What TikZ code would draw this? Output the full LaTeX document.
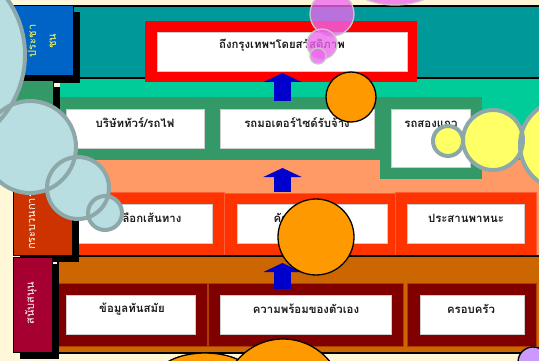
\documentclass[tikz,border=0pt]{standalone}
\usepackage{fontspec}
\newfontfamily\thai[Script=Thai]{Loma}
\usetikzlibrary{arrows.meta}
\definecolor{cream}{HTML}{FFF7D8}
\definecolor{tealband}{HTML}{009999}
\definecolor{bluelab}{HTML}{0063C6}
\definecolor{mint}{HTML}{00CC99}
\definecolor{dgreen}{HTML}{339966}
\definecolor{salmon}{HTML}{FF9966}
\definecolor{redrow}{HTML}{FF3300}
\definecolor{redlab}{HTML}{CC3300}
\definecolor{brownband}{HTML}{CC6600}
\definecolor{darkred}{HTML}{800000}
\definecolor{crimson}{HTML}{A50030}
\definecolor{orangec}{HTML}{FF9900}
\definecolor{arrowblue}{HTML}{0000CC}
\definecolor{bubble}{HTML}{B9DEE2}
\definecolor{bubbleline}{HTML}{8DA8A8}
\definecolor{yel}{HTML}{FFFF66}
\definecolor{pinkc}{HTML}{EE66EE}
\definecolor{purplec}{HTML}{CC99FF}
\definecolor{txtc}{HTML}{1C1C1C}
\tikzset{
  wbox/.style={fill=white, draw=black!20, line width=0.4pt, inner sep=0pt},
  txt/.style={font=\thai\bfseries\fontsize{11.4}{13}\selectfont, text=txtc, inner sep=0pt},
  labtxt/.style={font=\thai\fontsize{11}{20}\selectfont, inner sep=0pt, rotate=90, align=center},
  blockarrow/.style={draw=arrowblue, line width=17pt, -{Triangle[length=9pt,width=38pt]}},
  orangecirc/.style={fill=orangec, draw=black, line width=1.3pt},
  bubblefill/.style={fill=bubble, draw=none},
  bubbleedge/.style={draw=bubbleline, line width=4pt},
  yelfill/.style={fill=yel, draw=none},
  pinkcirc/.style={fill=pinkc, fill opacity=0.78, draw=black!22, line width=1.3pt},
}
\begin{document}
\begin{tikzpicture}[x=1pt,y=-1pt]
\useasboundingbox (0,0) rectangle (539,361);
\fill[cream] (0,0) rectangle (539,361);

% ---------- layer 1 ----------
\draw[fill=tealband, line width=1.5pt] (62,6) rectangle (560,78);
% ---------- layer 2 / 3 backgrounds ----------
\fill[mint] (60,78.8) rectangle (560,160);
\fill[salmon] (60,160) rectangle (560,257);
% red frame of goal
\fill[red] (145,21) rectangle (417,82);
\node[wbox, minimum width=250pt, minimum height=39pt] (goal) at (282,51.5) {};
\node[txt] (goalt) at (282,45) {ถึงกรุงเทพฯโดยสวัสดิภาพ};

% ---------- layer 2 ----------
\fill[dgreen] (60,97) rectangle (380,160);
\fill[dgreen] (380,97) rectangle (482,179);
\node[wbox, minimum width=138pt, minimum height=39pt] (b1) at (135,128.5) {};
\node[wbox, minimum width=154pt, minimum height=39pt] (b2) at (297,128.5) {};
\node[wbox, minimum width=79pt, minimum height=58pt] (b3) at (430.5,138) {};
\node[txt] (b1t) at (135,123) {บริษัททัวร์/รถไฟ};
\node[txt] (b2t) at (297,123) {รถมอเตอร์ไซด์รับจ้าง};
\node[txt] (b3t) at (431,124) {รถสองแถว};

% ---------- layer 3 ----------
\filldraw[fill=redrow, draw=redrow!80!white, line width=0.5pt] (60,192) rectangle (224,255);
\filldraw[fill=redrow, draw=redrow!80!white, line width=0.5pt] (224,193) rectangle (395,255);
\filldraw[fill=redrow, draw=redrow!80!white, line width=0.5pt] (395,192) rectangle (536,255);
\node[wbox, minimum width=146pt, minimum height=39pt] (c1) at (139,223.5) {};
\node[wbox, minimum width=150pt, minimum height=39pt] (c2) at (312,223.5) {};
\node[wbox, minimum width=117pt, minimum height=39pt] (c3) at (465.5,223.5) {};
\node[txt] (c1t) at (150,218) {เลือกเส้นทาง};
\node[txt] (c2t) at (311,218) {คัดเลือกพาหนะ};
\node[txt] (c3t) at (466,218) {ประสานพาหนะ};

% ---------- layer 4 ----------
\draw[fill=brownband, line width=1.5pt] (58,256) rectangle (560,353);
\filldraw[fill=darkred, draw=brownband!60!darkred, line width=0.5pt] (58,283) rectangle (207,346);
\filldraw[fill=darkred, draw=brownband!60!darkred, line width=0.5pt] (208,283) rectangle (403,346);
\filldraw[fill=darkred, draw=brownband!60!darkred, line width=0.5pt] (407,283) rectangle (536,346);
\node[wbox, minimum width=129pt, minimum height=39pt] (d1) at (130.5,314.5) {};
\node[wbox, minimum width=171pt, minimum height=39pt] (d2) at (305.5,314.5) {};
\node[wbox, minimum width=104pt, minimum height=39pt] (d3) at (472,314.5) {};
\node[txt] (d1t) at (132,309) {ข้อมูลทันสมัย};
\node[txt] (d2t) at (306,309) {ความพร้อมของตัวเอง};
\node[txt] (d3t) at (471,309) {ครอบครัว};

% ---------- left labels ----------
\fill[black] (20,12) rectangle (80,83);
\draw[fill=bluelab, line width=0.8pt] (13,5) rectangle (73,75);
\node[labtxt, text=yel] (l1) at (42,41) {ประชา\\ชน};

\fill[black] (20,87) rectangle (60,185);
\draw[fill=dgreen, line width=0.8pt] (13,80) rectangle (53,178);

\fill[black] (20,192) rectangle (79,262);
\draw[fill=redlab, line width=0.8pt] (13,185) rectangle (72,255);
\node[labtxt, text=white] (l3) at (32,221) {กระบวนการ};

\fill[black] (20,264) rectangle (59,359);
\draw[fill=crimson, line width=0.8pt] (13,257) rectangle (52,352);
\node[labtxt, text=white] (l4) at (31,303) {สนับสนุน};

% ---------- arrows ----------
\coordinate (a1s) at (282.5,101);
\coordinate (a1t) at (282.5,73);
\coordinate (a2s) at (282.5,192);
\coordinate (a2t) at (282.5,168);
\coordinate (a3s) at (282.5,289);
\coordinate (a3t) at (282.5,263);
\draw[blockarrow] (a1s) -- (a1t);
\draw[blockarrow] (a2s) -- (a2t);
\draw[blockarrow] (a3s) -- (a3t);

% ---------- orange circles ----------
\draw[orangecirc] (351,97) circle[radius=25];
\draw[orangecirc] (316,237) circle[radius=38];
\draw[orangecirc] (205,377) ellipse[x radius=48, y radius=24];
\draw[orangecirc] (283,399) circle[radius=60];
\draw[fill=purplec, draw=black, line width=1.3pt] (533,362) circle[radius=15];

% ---------- light blue bubbles ----------
\fill[bubblefill] (-72,55) circle[radius=97];
\fill[bubblefill] (30,147) circle[radius=46];
\fill[bubblefill] (78,188) circle[radius=31];
\fill[bubblefill] (105,213) circle[radius=17];
\draw[bubbleedge] (-72,55) circle[radius=97];
\draw[bubbleedge] (30,147) circle[radius=46];
\draw[bubbleedge] (78,188) circle[radius=31];
\draw[bubbleedge] (105,213) circle[radius=17];

% ---------- yellow bubbles ----------
\fill[yelfill] (565,145) circle[radius=45];
\fill[yelfill] (493,140) circle[radius=30];
\fill[yelfill] (448,141) circle[radius=15];
\draw[bubbleedge] (565,145) circle[radius=45];
\draw[bubbleedge] (493,140) circle[radius=30];
\draw[bubbleedge] (448,141) circle[radius=15];

% ---------- pink bubbles ----------
\draw[pinkcirc] (395,-25) ellipse[x radius=50, y radius=30];
\draw[pinkcirc] (332,14) circle[radius=22];
\draw[pinkcirc] (322,44) circle[radius=15];
\draw[pinkcirc] (318,56) circle[radius=8];
\end{tikzpicture}
\end{document}
